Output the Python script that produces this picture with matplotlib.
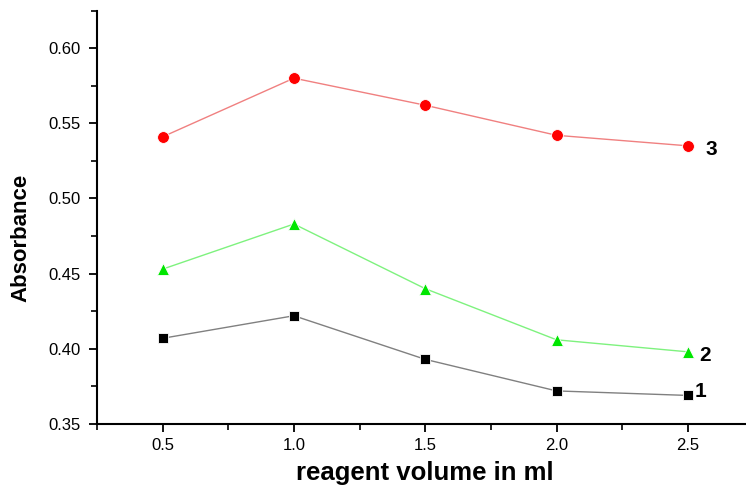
import matplotlib.pyplot as plt
from matplotlib.ticker import MultipleLocator

plt.rcParams['font.family'] = ['Liberation Sans', 'DejaVu Sans']

volume = [0.5, 1.0, 1.5, 2.0, 2.5]
abs_1 = [0.407, 0.422, 0.393, 0.372, 0.369]
abs_2 = [0.453, 0.483, 0.440, 0.406, 0.398]
abs_3 = [0.541, 0.580, 0.562, 0.542, 0.535]
curve_names = ['1', '2', '3']

fig = plt.figure(figsize=(7.46, 4.86), dpi=100)
ax = fig.add_axes([97 / 746, 1 - 424 / 486, 1 - 97 / 746 + 0.01, (424 - 10.5) / 486])

ax.plot(volume, abs_1, color='#808080', lw=1, marker='s', ms=6.5,
        mfc='black', mec='white', mew=0.6)
ax.plot(volume, abs_2, color='#7ef27e', lw=1, marker='^', ms=9,
        mfc='#00e600', mec='white', mew=0.6)
ax.plot(volume, abs_3, color='#f08080', lw=1, marker='o', ms=8.5,
        mfc='#ff0000', mec='white', mew=0.6)

# curve numbers beside the last points
offsets = [(5, 3), (8, -3), (13, -3)]
for name, ys, off in zip(curve_names, [abs_1, abs_2, abs_3], offsets):
    ax.annotate(name, (volume[-1], ys[-1]), xytext=off, textcoords='offset points',
                fontsize=15, fontweight='bold', va='center', ha='left')

ax.set_xlim(0.25, 2.75)
ax.set_ylim(0.35, 0.625)
ax.xaxis.set_major_locator(MultipleLocator(0.5))
ax.xaxis.set_minor_locator(MultipleLocator(0.25))
ax.yaxis.set_major_locator(MultipleLocator(0.05))
ax.yaxis.set_minor_locator(MultipleLocator(0.025))
ax.xaxis.set_major_formatter(lambda v, p: f'{v:.1f}')
ax.yaxis.set_major_formatter(lambda v, p: f'{v:.2f}')

for s in ['top', 'right']:
    ax.spines[s].set_visible(False)
for s in ['left', 'bottom']:
    ax.spines[s].set_linewidth(1.5)
ax.tick_params(which='major', direction='out', length=6, width=1.3, labelsize=12, pad=6)
ax.tick_params(axis='x', which='major', pad=4)
ax.tick_params(which='minor', direction='out', length=4, width=1.2)

ax.set_xlabel('reagent volume in ml', fontsize=18.5, fontweight='bold', labelpad=6)
ax.set_ylabel('Absorbance', fontsize=16, fontweight='bold', labelpad=10)
ax.yaxis.set_label_coords(-0.1, 0.45)

fig.savefig('out.png', dpi=100)
